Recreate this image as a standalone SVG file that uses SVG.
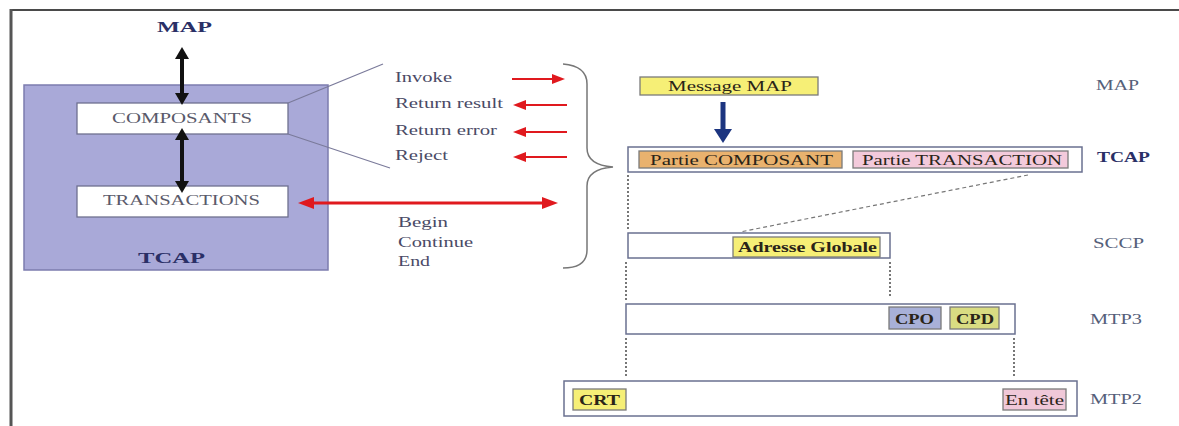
<svg xmlns="http://www.w3.org/2000/svg" width="1179" height="426" viewBox="0 0 1179 426" font-family="'Liberation Serif', 'Times New Roman', Times, 'DejaVu Serif', serif">
  <style>
    text { font-family: "Liberation Serif", "Times New Roman", Times, "DejaVu Serif", serif; }
    .lbl { font-size: 15px; fill: #4a4a66; }
    .box-lbl { font-size: 15px; fill: #5a5a6a; }
    .title { font-size: 15px; font-weight: bold; fill: #2a2f66; }
    .layer { font-size: 14px; fill: #55607a; }
    .field { font-size: 14px; fill: #2a2418; }
    .fieldb { font-size: 14px; font-weight: bold; fill: #2a2418; }
    .row { fill: #ffffff; stroke: #6a7090; stroke-width: 1.5; }
    .fbox { stroke: #7a7a7a; stroke-width: 1.3; }
    .dotted { stroke: #555; stroke-width: 1.6; stroke-dasharray: 2 2; fill: none; }
  </style>
  <defs>
    <marker id="hk" markerUnits="userSpaceOnUse" markerWidth="12" markerHeight="14" refX="0" refY="7" orient="auto-start-reverse">
      <path d="M0,0 L12,7 L0,14 z" fill="#111"/>
    </marker>
    <marker id="hr" markerUnits="userSpaceOnUse" markerWidth="16" markerHeight="12" refX="0" refY="6" orient="auto-start-reverse">
      <path d="M0,0 L16,6 L0,12 z" fill="#e0191e"/>
    </marker>
    <marker id="hrs" markerUnits="userSpaceOnUse" markerWidth="13" markerHeight="10" refX="0" refY="5" orient="auto-start-reverse">
      <path d="M0,0 L13,5 L0,10 z" fill="#e0191e"/>
    </marker>
    <marker id="hb" markerUnits="userSpaceOnUse" markerWidth="14" markerHeight="18" refX="0" refY="9" orient="auto">
      <path d="M0,0 L14,9 L0,18 z" fill="#1c3580"/>
    </marker>
  </defs>

  <rect width="1179" height="426" fill="#ffffff"/>
  <!-- page frame -->
  <line x1="10" y1="10" x2="1179" y2="10" stroke="#4a4a4a" stroke-width="2"/>
  <line x1="11" y1="9" x2="11" y2="426" stroke="#555" stroke-width="3"/>

  <!-- left: TCAP block -->
  <g id="tcap-block">
    <rect x="24" y="85" width="304" height="185" fill="#a9a9d8" stroke="#7c7cae" stroke-width="1.5"/>
    <text class="title" x="138" y="263" textLength="67" lengthAdjust="spacingAndGlyphs">TCAP</text>
  </g>
  <g id="map-top">
    <text class="title" x="157" y="32" textLength="55" lengthAdjust="spacingAndGlyphs">MAP</text>
  </g>
  <g id="composants">
    <rect x="77" y="103" width="211" height="31" fill="#ffffff" stroke="#6f7090" stroke-width="1.3"/>
    <text class="box-lbl" x="112" y="123" textLength="140" lengthAdjust="spacingAndGlyphs">COMPOSANTS</text>
  </g>
  <g id="transactions">
    <rect x="77" y="186" width="211" height="31" fill="#ffffff" stroke="#6f7090" stroke-width="1.3"/>
    <text class="box-lbl" x="103" y="205" textLength="157" lengthAdjust="spacingAndGlyphs">TRANSACTIONS</text>
  </g>

  <!-- primitives list -->
  <g id="primitives">
    <text class="lbl" x="395" y="82" textLength="57" lengthAdjust="spacingAndGlyphs">Invoke</text>
    <text class="lbl" x="395" y="108" textLength="108" lengthAdjust="spacingAndGlyphs">Return result</text>
    <text class="lbl" x="395" y="135" textLength="102" lengthAdjust="spacingAndGlyphs">Return error</text>
    <text class="lbl" x="395" y="160" textLength="53" lengthAdjust="spacingAndGlyphs">Reject</text>
    <text class="lbl" x="398" y="227" textLength="50" lengthAdjust="spacingAndGlyphs">Begin</text>
    <text class="lbl" x="398" y="247" textLength="75" lengthAdjust="spacingAndGlyphs">Continue</text>
    <text class="lbl" x="398" y="266" textLength="32" lengthAdjust="spacingAndGlyphs">End</text>
  </g>

  <!-- right: message stack -->
  <g id="message-map">
    <rect class="fbox" x="640" y="77" width="178" height="18" fill="#f6ef76"/>
    <text class="field" x="668" y="91" textLength="124" lengthAdjust="spacingAndGlyphs">Message MAP</text>
  </g>
  <g id="tcap-row">
    <rect class="row" x="628" y="147" width="454" height="25"/>
    <rect class="fbox" x="639" y="151" width="203" height="17" fill="#e9b26e"/>
    <text class="field" x="650" y="165" textLength="183" lengthAdjust="spacingAndGlyphs">Partie COMPOSANT</text>
    <rect class="fbox" x="853" y="151" width="215" height="17" fill="#f3cadb"/>
    <text class="field" x="862" y="165" textLength="200" lengthAdjust="spacingAndGlyphs">Partie TRANSACTION</text>
  </g>
  <g id="sccp-row">
    <rect class="row" x="628" y="233" width="262" height="25"/>
    <rect class="fbox" x="733" y="237" width="147" height="20" fill="#f6ef76"/>
    <text class="fieldb" x="738" y="252" textLength="139" lengthAdjust="spacingAndGlyphs">Adresse Globale</text>
  </g>
  <g id="mtp3-row">
    <rect class="row" x="626" y="304" width="389" height="30"/>
    <rect class="fbox" x="889" y="307" width="52" height="22" fill="#a8b0d8"/>
    <text class="fieldb" x="895" y="324" textLength="39" lengthAdjust="spacingAndGlyphs">CPO</text>
    <rect class="fbox" x="950" y="307" width="49" height="22" fill="#d9dc82"/>
    <text class="fieldb" x="956" y="324" textLength="38" lengthAdjust="spacingAndGlyphs">CPD</text>
  </g>
  <g id="mtp2-row">
    <rect class="row" x="564" y="381" width="513" height="35"/>
    <rect class="fbox" x="573" y="389" width="53" height="21" fill="#f6ef76"/>
    <text class="fieldb" x="579" y="405" textLength="41" lengthAdjust="spacingAndGlyphs">CRT</text>
    <rect class="fbox" x="1003" y="389" width="63" height="21" fill="#f0c8d8"/>
    <text class="field" x="1005" y="405" textLength="59" lengthAdjust="spacingAndGlyphs">En tête</text>
  </g>

  <!-- layer names -->
  <g id="layer-names">
    <text class="layer" x="1096" y="90" textLength="43" lengthAdjust="spacingAndGlyphs">MAP</text>
    <text class="title" x="1097" y="162" textLength="53" lengthAdjust="spacingAndGlyphs" font-size="14">TCAP</text>
    <text class="layer" x="1093" y="248" textLength="51" lengthAdjust="spacingAndGlyphs">SCCP</text>
    <text class="layer" x="1090" y="324" textLength="52" lengthAdjust="spacingAndGlyphs">MTP3</text>
    <text class="layer" x="1090" y="404" textLength="52" lengthAdjust="spacingAndGlyphs">MTP2</text>
  </g>

  <!-- connectors -->
  <g id="connectors" fill="none">
    <!-- MAP <-> COMPOSANTS <-> TRANSACTIONS -->
    <line x1="182" y1="59" x2="182" y2="93" stroke="#111" stroke-width="4" marker-start="url(#hk)" marker-end="url(#hk)"/>
    <line x1="182" y1="140" x2="182" y2="181" stroke="#111" stroke-width="4" marker-start="url(#hk)" marker-end="url(#hk)"/>
    <!-- zoom-out lines from COMPOSANTS -->
    <line x1="288" y1="103" x2="383" y2="64" stroke="#7a7a9a" stroke-width="1.2"/>
    <line x1="288" y1="134" x2="390" y2="168" stroke="#7a7a9a" stroke-width="1.2"/>
    <!-- TRANSACTIONS <-> dialogue primitives -->
    <line x1="314" y1="203" x2="542" y2="203" stroke="#e0191e" stroke-width="3" marker-start="url(#hr)" marker-end="url(#hr)"/>
    <!-- component primitives -->
    <line x1="512" y1="79" x2="552" y2="79" stroke="#e0191e" stroke-width="2" marker-end="url(#hrs)"/>
    <line x1="567" y1="105" x2="526" y2="105" stroke="#e0191e" stroke-width="2" marker-end="url(#hrs)"/>
    <line x1="567" y1="132" x2="526" y2="132" stroke="#e0191e" stroke-width="2" marker-end="url(#hrs)"/>
    <line x1="567" y1="157" x2="526" y2="157" stroke="#e0191e" stroke-width="2" marker-end="url(#hrs)"/>
    <!-- brace -->
    <path d="M563,64 Q587,66 587,84 L587,148 Q587,165 613,167 Q587,169 587,186 L587,250 Q587,268 563,268" stroke="#777" stroke-width="1.5"/>
    <!-- Message MAP into TCAP -->
    <line x1="723" y1="102" x2="723" y2="129" stroke="#1c3580" stroke-width="5" marker-end="url(#hb)"/>
    <!-- TRANSACTION part carried in SCCP -->
    <line x1="1028" y1="175" x2="740" y2="232" stroke="#777" stroke-width="1.2" stroke-dasharray="4 3"/>
    <!-- encapsulation guides -->
    <line class="dotted" x1="628" y1="175" x2="628" y2="231"/>
    <line class="dotted" x1="626" y1="262" x2="626" y2="300"/>
    <line class="dotted" x1="890" y1="262" x2="890" y2="298"/>
    <line class="dotted" x1="626" y1="338" x2="626" y2="376"/>
    <line class="dotted" x1="1014" y1="338" x2="1014" y2="376"/>
  </g>
</svg>
